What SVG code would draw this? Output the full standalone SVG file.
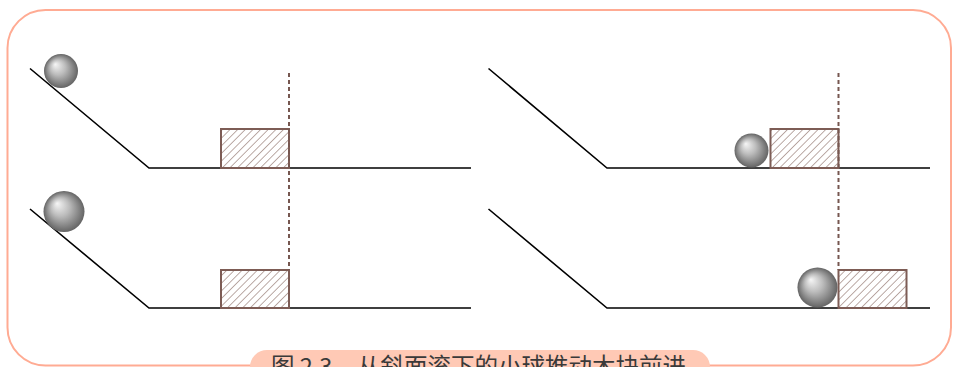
<svg xmlns="http://www.w3.org/2000/svg" width="953" height="367" viewBox="0 0 953 367">
  <style>
    .frame { fill: #ffffff; stroke: #ffab93; stroke-width: 2; }
    .track { fill: none; stroke: #000000; stroke-width: 1.6; stroke-linejoin: miter; }
    .block { fill: url(#hatch); stroke: #7d5c55; stroke-width: 2; }
    .mark { stroke: #765750; stroke-width: 2; stroke-dasharray: 4 3; }
    .ball { fill: url(#shade); }
    .tag { fill: #ffc9b5; }
    .tag-text { font-family: "Noto Sans CJK SC", "Noto Sans", sans-serif; font-size: 23.5px; fill: #3a3a3a; }
  </style>
  <defs>
    <pattern id="hatch" patternUnits="userSpaceOnUse" width="5.4" height="5.4" patternTransform="rotate(45)">
      <line x1="0" y1="0" x2="0" y2="5.4" stroke="#8f726b" stroke-width="1.2"/>
    </pattern>
    <radialGradient id="shade" cx="0.5" cy="0.5" r="0.5" fx="0.33" fy="0.3">
      <stop offset="0" stop-color="#f6f6f6"/>
      <stop offset="0.45" stop-color="#bcbcbc"/>
      <stop offset="1" stop-color="#646464"/>
    </radialGradient>
  </defs>

  <!-- outer frame -->
  <rect class="frame" x="7.5" y="10" width="943.5" height="355.5" rx="38" ry="38"/>

  <!-- panel: top left -->
  <g id="panel-top-left">
    <polyline class="track" points="30,68.5 149,168 471,168"/>
    <rect class="block" x="221" y="129" width="68" height="39"/>
    <circle class="ball" cx="61" cy="71" r="17"/>
  </g>

  <!-- panel: bottom left -->
  <g id="panel-bottom-left">
    <polyline class="track" points="30,209 149,308 471,308"/>
    <rect class="block" x="221" y="270" width="68" height="38"/>
    <circle class="ball" cx="64" cy="211.5" r="20.5"/>
  </g>

  <!-- panel: top right -->
  <g id="panel-top-right">
    <polyline class="track" points="488.5,68.5 607,168 930,168"/>
    <rect class="block" x="770.5" y="129" width="68" height="39"/>
    <circle class="ball" cx="751.5" cy="150.5" r="17"/>
  </g>

  <!-- panel: bottom right -->
  <g id="panel-bottom-right">
    <polyline class="track" points="488.5,209 607,308 930,308"/>
    <rect class="block" x="838.5" y="270" width="68" height="38"/>
    <circle class="ball" cx="817.5" cy="287.5" r="20"/>
  </g>

  <!-- reference lines marking the block's start position -->
  <g id="connectors">
    <line class="mark" x1="289" y1="73" x2="289" y2="270"/>
    <line class="mark" x1="838.5" y1="73" x2="838.5" y2="270"/>
  </g>

  <!-- caption -->
  <g id="caption">
    <rect class="tag" x="250" y="350" width="460" height="40" rx="17" ry="17"/>
    <text class="tag-text" y="374.5"><tspan x="271">图 2.3</tspan><tspan x="357">从斜面滚下的小球推动木块前进</tspan></text>
  </g>
</svg>
